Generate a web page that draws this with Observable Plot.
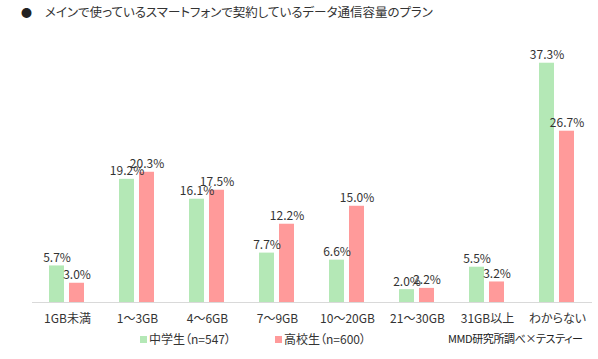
<!DOCTYPE html>
<html>
<head>
<meta charset="utf-8">
<script src="https://cdn.jsdelivr.net/npm/d3@7"></script>
<script src="https://cdn.jsdelivr.net/npm/@observablehq/plot@0.6"></script>
<style>
  html, body { margin: 0; padding: 0; background: #fff; }
  #wrap { position: relative; width: 598px; height: 359px; font-family: "Noto Sans CJK JP", sans-serif; color: #333; font-feature-settings: "palt"; }
  #wrap svg text { font-feature-settings: "palt"; }
  .abs { position: absolute; white-space: nowrap; line-height: 1; }
  .sw { display: inline-block; width: 7px; height: 7px; margin-right: 2px; vertical-align: 1px; }
</style>
</head>
<body>
<div id="wrap">
  <div id="chart" class="abs" style="left:0;top:0"></div>
  <div class="abs" style="left:21px;top:7px;font-size:11px;color:#222">●</div>
  <div class="abs" id="title" style="left:45px;top:6px;font-size:12.5px;color:#333"></div>
  <div class="abs" id="leg1" style="left:140px;top:333px;font-size:12px"></div>
  <div class="abs" id="leg2" style="left:275px;top:333px;font-size:12px"></div>
  <div class="abs" id="source" style="left:448px;top:333px;font-size:11px;letter-spacing:-0.4px;color:#222"></div>
</div>
<script>
const title = "メインで使っているスマートフォンで契約しているデータ通信容量のプラン";
const categories = ["1GB未満", "1～3GB", "4～6GB", "7～9GB", "10～20GB", "21～30GB", "31GB以上", "わからない"];
const seriesNames = ["中学生（n=547）", "高校生（n=600）"];
const seriesColors = ["#b4e8b6", "#ff9a9a"];
const middleSchool = [5.7, 19.2, 16.1, 7.7, 6.6, 2.0, 5.5, 37.3];
const highSchool = [3.0, 20.3, 17.5, 12.2, 15.0, 2.2, 3.2, 26.7];
const sourceText = "MMD研究所調べ×テスティー";

const data = [];
categories.forEach((c, i) => {
  data.push({cat: c, series: seriesNames[0], value: middleSchool[i]});
  data.push({cat: c, series: seriesNames[1], value: highSchool[i]});
});

const chart = Plot.plot({
  width: 598,
  height: 359,
  marginTop: 30,
  marginBottom: 57,
  marginLeft: 31,
  marginRight: 6,
  style: {fontFamily: "'Noto Sans CJK JP', sans-serif", fontSize: "12px", color: "#333", background: "transparent"},
  fx: {domain: categories, padding: 0, label: null, axis: "bottom", tickSize: 0, tickPadding: 12},
  x: {domain: seriesNames, paddingInner: 0.238, paddingOuter: 0.79, axis: null},
  y: {domain: [0, 42.4], axis: null},
  color: {domain: seriesNames, range: seriesColors},
  marks: [
    Plot.barY(data, {fx: "cat", x: "series", y: "value", fill: "series"}),
    Plot.ruleY([0], {stroke: "#d9d9d9", strokeWidth: 1}),
    Plot.text(data, {fx: "cat", x: "series", y: "value", text: d => d.value.toFixed(1) + "%",
      lineAnchor: "bottom", dy: -4, fontSize: 12, fill: "#333"})
  ]
});
document.getElementById("chart").appendChild(chart);
document.getElementById("title").textContent = title;
document.getElementById("leg1").innerHTML = `<span class="sw" style="background:${seriesColors[0]}"></span>${seriesNames[0]}`;
document.getElementById("leg2").innerHTML = `<span class="sw" style="background:${seriesColors[1]}"></span>${seriesNames[1]}`;
document.getElementById("source").textContent = sourceText;
</script>
</body>
</html>
